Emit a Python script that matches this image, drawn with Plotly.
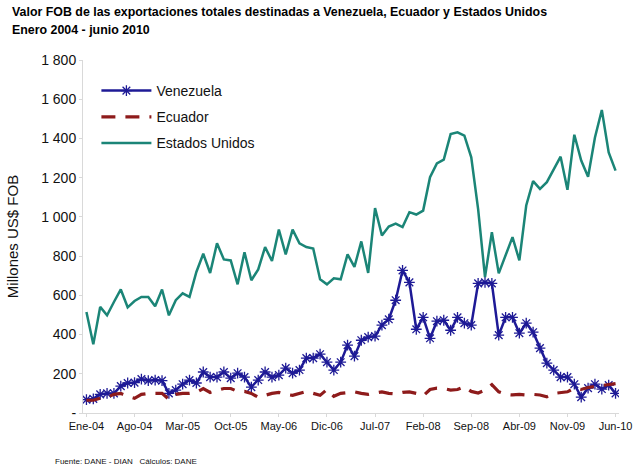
import plotly.graph_objects as go

meses = ["Ene", "Feb", "Mar", "Abr", "May", "Jun", "Jul", "Ago", "Sep", "Oct", "Nov", "Dic"]
categorias = [f"{meses[m]}-{str(y)[2:]}" for y in range(2004, 2011) for m in range(12)][:78]

venezuela = [68, 72, 95, 100, 100, 137, 153, 155, 173, 165, 168, 165,
             100, 117, 147, 168, 153, 209, 183, 183, 209, 178, 203, 183,
             132, 168, 209, 183, 193, 229, 203, 219, 280, 280, 300, 259,
             219, 259, 346, 290, 371, 387, 392, 448, 478, 575, 727, 666,
             427, 488, 381, 468, 473, 422, 488, 458, 448, 661, 666, 661,
             397, 488, 488, 407, 458, 412, 331, 254, 219, 183, 183, 147,
             81, 127, 147, 122, 142, 100]

ecuador = [65, 65, 75, 80, 95, 100, 85, 75, 95, 100, 100, 100,
           70, 95, 100, 100, 105, 125, 105, 115, 125, 125, 110, 110,
           100, 80, 90, 100, 105, 95, 90, 100, 110, 100, 90, 120,
           85, 100, 105, 108, 100, 95, 102, 108, 100, 97, 105, 108,
           100, 87, 120, 127, 125, 117, 120, 134, 110, 102, 117, 145,
           108, 95, 92, 95, 92, 95, 92, 83, 100, 105, 108, 127,
           120, 130, 134, 140, 145, 150]

estados_unidos = [515, 350, 541, 498, 566, 630, 539, 571, 592, 592, 544, 630,
                  498, 575, 610, 592, 719, 812, 714, 865, 783, 778, 656, 820,
                  677, 732, 846, 775, 935, 809, 935, 865, 846, 839, 682, 656,
                  687, 682, 809, 745, 875, 714, 1045, 905, 951, 966, 948, 1024,
                  1012, 1032, 1202, 1273, 1292, 1422, 1431, 1414, 1304, 1040, 693, 922,
                  712, 805, 897, 778, 1058, 1182, 1143, 1177, 1240, 1307, 1138, 1419,
                  1287, 1205, 1405, 1545, 1329, 1236]

titulo_1 = "Valor FOB de las exportaciones totales destinadas a Venezuela, Ecuador y Estados Unidos"
titulo_2 = "Enero 2004 - junio 2010"
fuente = "Fuente: DANE - DIAN   Cálculos: DANE"

x_idx = list(range(len(categorias)))
tick_idx = list(range(0, 78, 7))
tick_text = [categorias[i] for i in tick_idx]

y_vals = [0, 200, 400, 600, 800, 1000, 1200, 1400, 1600, 1800]
y_text = ["-", "200", "400", "600", "800", "1 000", "1 200", "1 400", "1 600", "1 800"]

FONT = "Liberation Sans, Arial, sans-serif"
W, H = 643, 467
L, R, T, B = 83, 11, 60, 54
PW, PH = W - L - R, H - T - B

def px_x(px):
    return (px - L) / PW

def px_y(py):
    return (H - B - py) / PH

fig = go.Figure()
fig.add_trace(go.Scatter(
    x=x_idx, y=venezuela, name="Venezuela", mode="lines+markers",
    line=dict(color="#1E1A96", width=2.5),
    marker=dict(symbol="asterisk-open", size=9, color="#1E1A96",
                line=dict(color="#1E1A96", width=1.3)),
    legendgroup="v"))
fig.add_trace(go.Scatter(
    x=x_idx, y=ecuador, name="Ecuador", mode="lines",
    line=dict(color="#8E1B1B", width=3.2, dash="14px,10px"),
    legendgroup="e"))
fig.add_trace(go.Scatter(
    x=x_idx, y=estados_unidos, name="Estados Unidos", mode="lines",
    line=dict(color="#1B8577", width=2.5),
    legendgroup="u"))

fig.update_layout(
    width=W, height=H,
    margin=dict(l=L, r=R, t=T, b=B),
    paper_bgcolor="white", plot_bgcolor="white",
    font=dict(family=FONT, color="#111111"),
    showlegend=True,
    legend=dict(
        x=0.025, y=px_y(75), xanchor="left", yanchor="top",
        font=dict(size=14, family=FONT, color="#111111"),
        bgcolor="rgba(0,0,0,0)", tracegroupgap=5, traceorder="grouped",
        itemwidth=50),
    xaxis=dict(
        range=[-0.5, 77.5], tickmode="array", tickvals=tick_idx, ticktext=tick_text,
        showgrid=False, zeroline=False, showline=True, linecolor="#D9D9D9", linewidth=1,
        ticks="outside", ticklen=3, tickcolor="#D9D9D9", ticklabeloverflow="allow",
        tickfont=dict(size=11, family=FONT, color="#111111")),
    yaxis=dict(
        range=[0, 1800], tickmode="array", tickvals=y_vals, ticktext=y_text,
        showgrid=False, zeroline=False, showline=True, linecolor="#D9D9D9", linewidth=1,
        ticks="outside", ticklen=3, tickcolor="#D9D9D9",
        tickfont=dict(size=14, family=FONT, color="#111111"),
        title=dict(text="Millones US$ FOB", font=dict(size=15, family=FONT, color="#111111"),
                   standoff=18)),
    annotations=[
        dict(text=f"<b>{titulo_1}</b>", xref="paper", yref="paper",
             x=px_x(8), y=px_y(12), xanchor="left", yanchor="middle", showarrow=False,
             font=dict(size=12.4, family=FONT, color="black")),
        dict(text=f"<b>{titulo_2}</b>", xref="paper", yref="paper",
             x=px_x(8), y=px_y(30), xanchor="left", yanchor="middle", showarrow=False,
             font=dict(size=12.4, family=FONT, color="black")),
        dict(text=fuente, xref="paper", yref="paper", x=px_x(52), y=px_y(462),
             xanchor="left", yanchor="middle", showarrow=False,
             font=dict(size=8, family=FONT, color="#111111")),
    ],
)

fig.write_html("out.html")
